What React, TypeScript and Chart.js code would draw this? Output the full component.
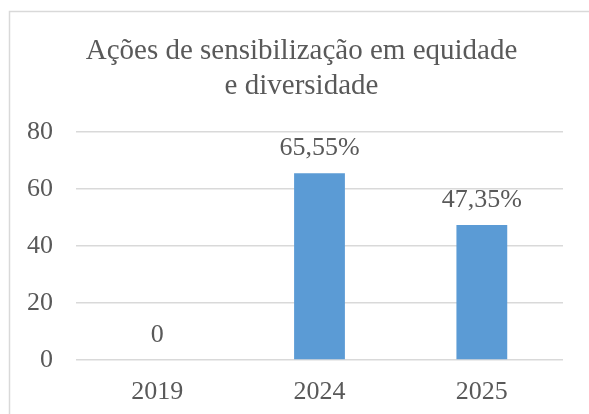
import React, { useEffect, useRef } from "react";
import { Chart, registerables } from "chart.js";

Chart.register(...registerables);

const titleLines = ["Ações de sensibilização em equidade", "e diversidade"];
const categories = ["2019", "2024", "2025"];
const values = [0, 65.55, 47.35];
const yMin = 0;
const yMax = 80;
const yStep = 20;

const TEXT = "#595959";
const GRID = "#d9d9d9";
const BAR = "#5B9BD5";
const FONT = "'Liberation Serif', 'Times New Roman', serif";

function fmt(v: number): string {
  if (v === 0) return "0";
  return v.toFixed(2).replace(".", ",") + "%";
}

const decorPlugin = {
  id: "decor",
  beforeDraw(chart: any) {
    const ctx = chart.ctx;
    ctx.save();
    ctx.strokeStyle = GRID;
    ctx.lineWidth = 1.5;
    ctx.beginPath();
    ctx.moveTo(9.5, 420);
    ctx.lineTo(9.5, 11.5);
    ctx.lineTo(600, 11.5);
    ctx.stroke();
    ctx.fillStyle = TEXT;
    ctx.font = `29px ${FONT}`;
    ctx.textAlign = "center";
    ctx.textBaseline = "alphabetic";
    ctx.fillText(titleLines[0], 301.5, 59);
    ctx.fillText(titleLines[1], 301.5, 94);
    ctx.restore();
  },
  afterDatasetsDraw(chart: any) {
    const ctx = chart.ctx;
    const meta = chart.getDatasetMeta(0);
    ctx.save();
    ctx.fillStyle = TEXT;
    ctx.font = `26px ${FONT}`;
    ctx.textAlign = "center";
    ctx.textBaseline = "alphabetic";
    meta.data.forEach((el: any, i: number) => {
      ctx.fillText(fmt(values[i]), el.x, el.y - 18);
    });
    ctx.restore();
  },
};

export default function App() {
  const ref = useRef<HTMLCanvasElement>(null);
  useEffect(() => {
    if (!ref.current) return;
    const chart = new Chart(ref.current, {
      type: "bar",
      data: {
        labels: categories,
        datasets: [
          {
            data: values,
            backgroundColor: BAR,
            barPercentage: 0.313,
            categoryPercentage: 1,
          },
        ],
      },
      options: {
        responsive: false,
        animation: false,
        layout: { padding: { top: 132, right: 26, left: 0, bottom: 0 } },
        plugins: {
          legend: { display: false },
          title: { display: false },
          tooltip: { enabled: false },
        },
        scales: {
          x: {
            grid: { display: false },
            border: { display: false },
            ticks: {
              color: TEXT,
              font: { family: FONT, size: 26 },
              padding: 9,
            },
            afterFit(scale: any) {
              scale.height = 54;
            },
          },
          y: {
            min: yMin,
            max: yMax,
            grid: { color: GRID, lineWidth: 1.5, drawTicks: false },
            border: { display: false },
            ticks: {
              stepSize: yStep,
              color: TEXT,
              font: { family: FONT, size: 26 },
              padding: 23,
            },
            afterFit(scale: any) {
              scale.width = 76;
            },
          },
        },
      },
      plugins: [decorPlugin],
    });
    return () => chart.destroy();
  }, []);
  return (
    <div style={{ position: "absolute", left: 0, top: 0, width: 589, height: 414 }}>
      <canvas ref={ref} width={589} height={414} />
    </div>
  );
}
